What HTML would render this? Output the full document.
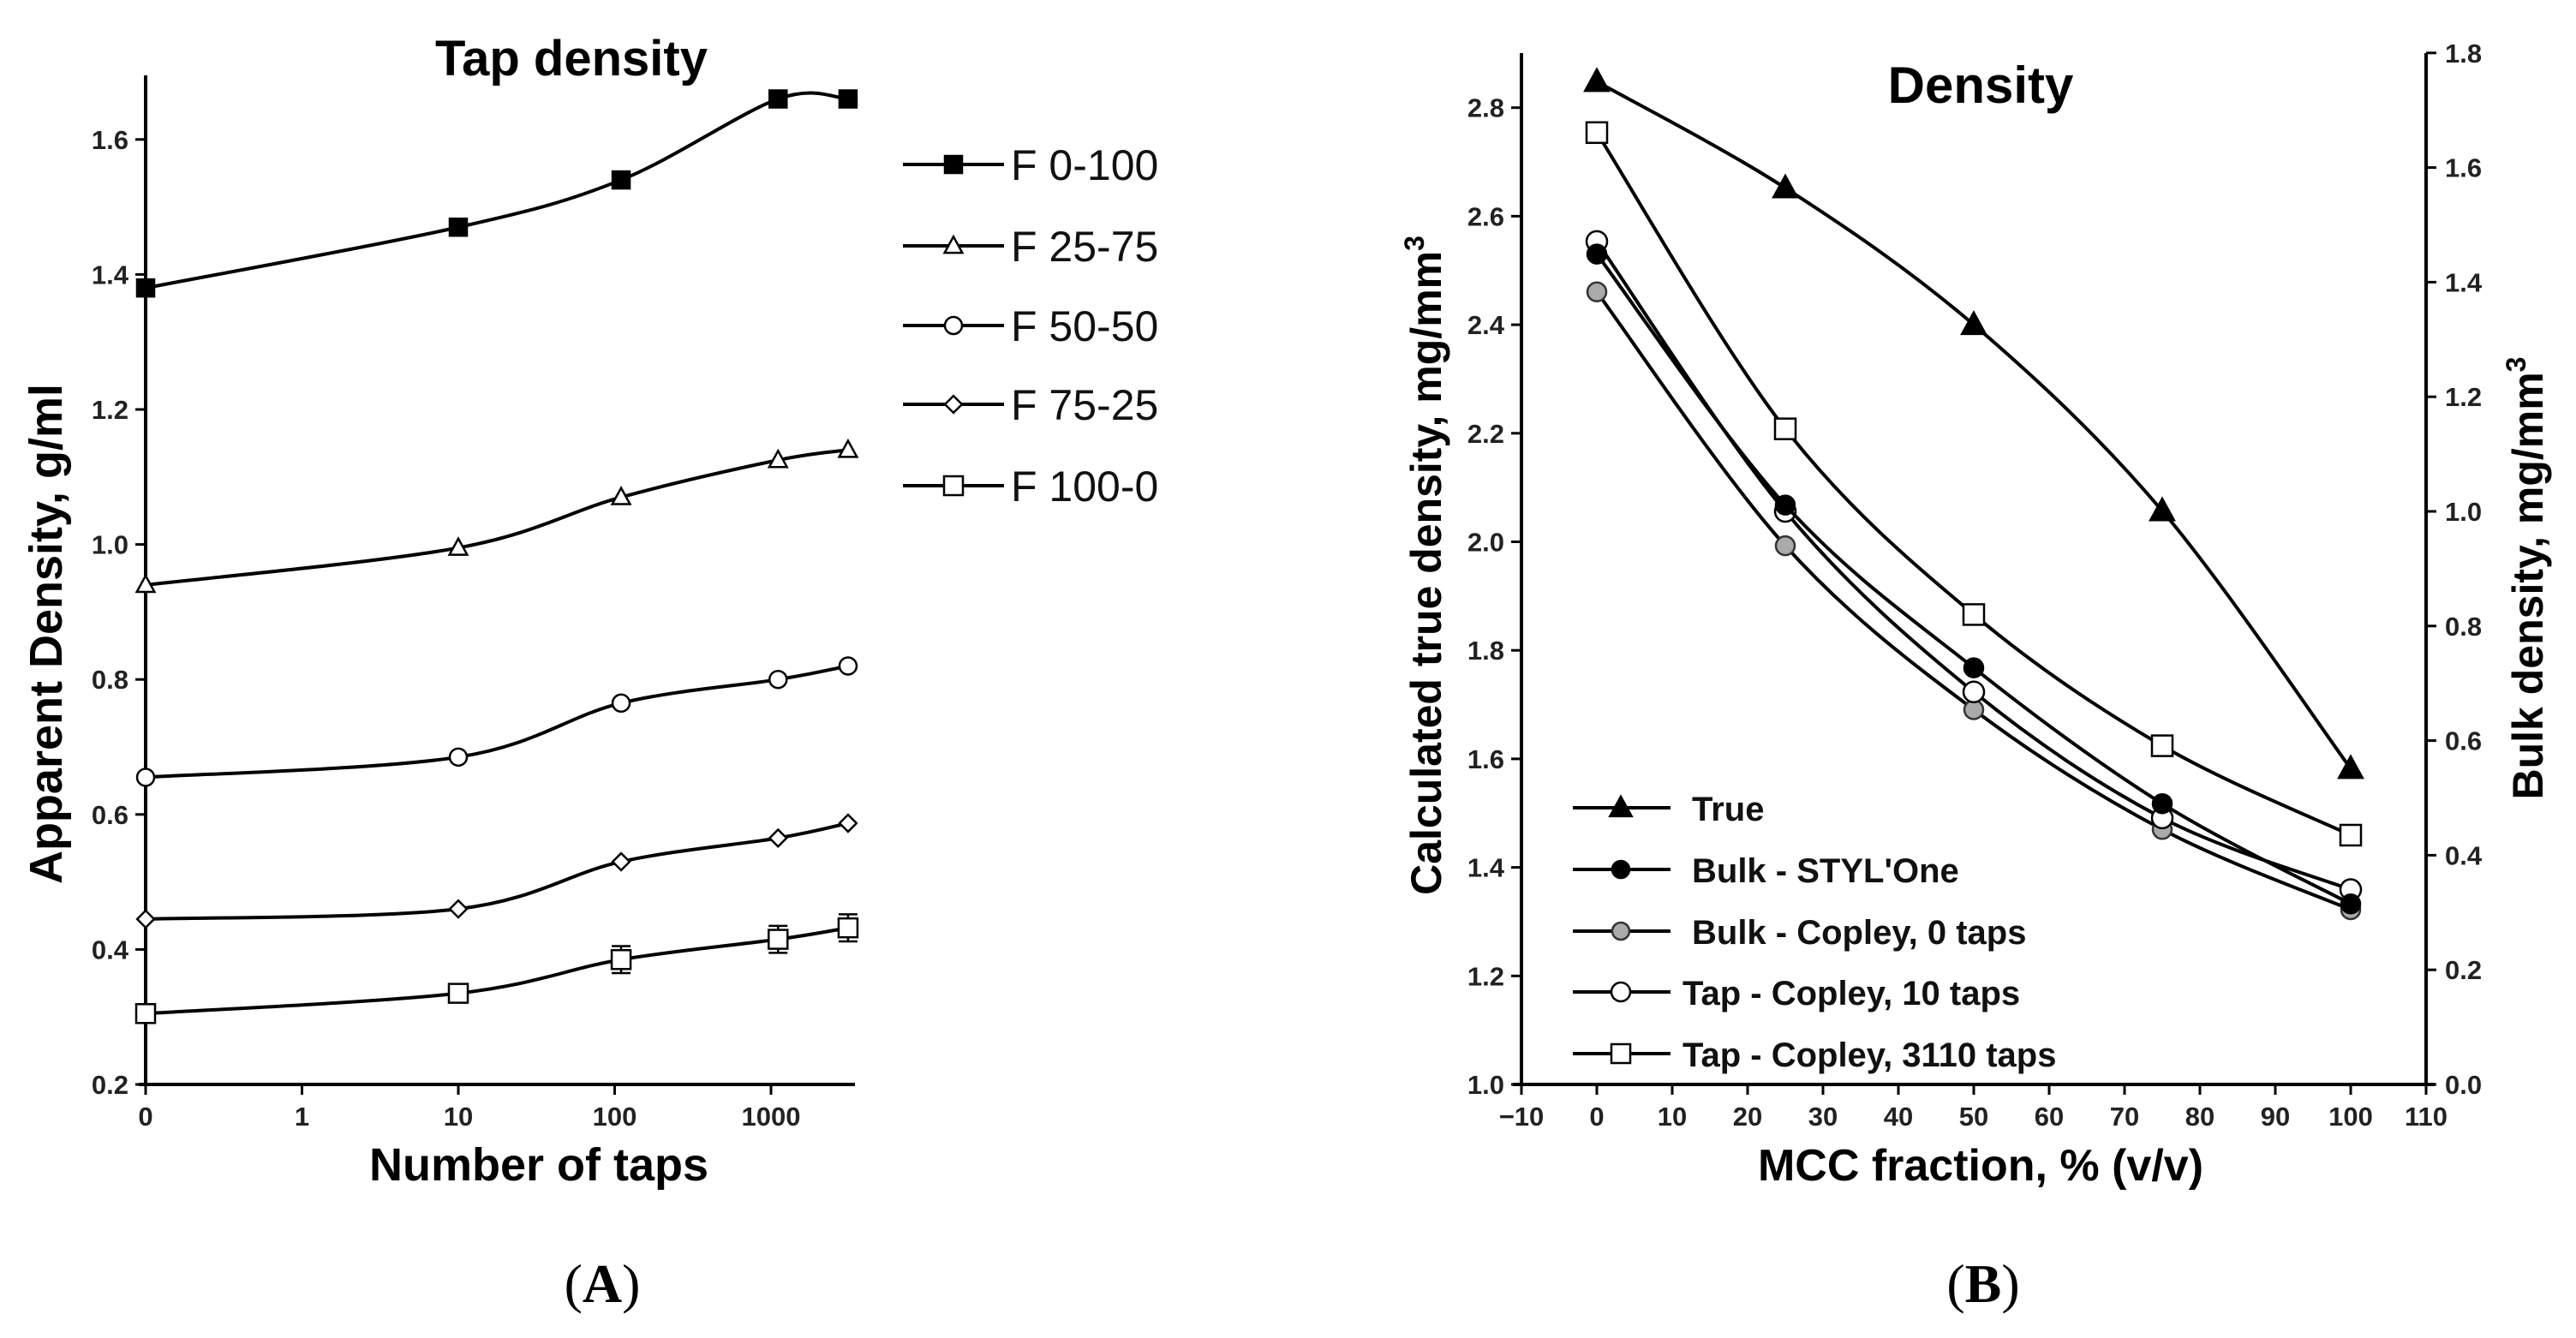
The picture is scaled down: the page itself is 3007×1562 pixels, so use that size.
<!DOCTYPE html>
<html><head><meta charset="utf-8">
<style>
html,body{margin:0;padding:0;background:#fff;}
svg{display:block;font-family:"Liberation Sans",Arial,sans-serif;}
</style></head>
<body>
<svg id="fig" width="3007" height="1562" viewBox="0 0 3007 1562" xmlns="http://www.w3.org/2000/svg">
<g id="A"></g>
<g id="B"></g>
</svg>
<script>
// ---- Chart A data ----
const tapsA = [0, 10, 110, 1110, 3110];
const tickLabelsAX = ["0","1","10","100","1000"];
const tickValsAY = [0.2,0.4,0.6,0.8,1.0,1.2,1.4,1.6];
const namesA = ["F 0-100","F 25-75","F 50-50","F 75-25","F 100-0"];
const f0_100 = [1.38, 1.47, 1.54, 1.66, 1.66];
const f25_75 = [0.94, 0.995, 1.07, 1.125, 1.14];
const f50_50 = [0.655, 0.685, 0.765, 0.80, 0.82];
const f75_25 = [0.445, 0.46, 0.53, 0.565, 0.587];
const f100_0 = [0.305, 0.335, 0.385, 0.415, 0.432];
const err100_0 = [0.005, 0.01, 0.02, 0.02, 0.02];
// ---- Chart B data ----
const mcc = [0, 25, 50, 75, 100];
const tickValsBX = [-10,0,10,20,30,40,50,60,70,80,90,100,110];
const tickValsBL = [1.0,1.2,1.4,1.6,1.8,2.0,2.2,2.4,2.6,2.8];
const tickValsBR = [0.0,0.2,0.4,0.6,0.8,1.0,1.2,1.4,1.6,1.8];
const namesB = ["True","Bulk - STYL'One","Bulk - Copley, 0 taps","Tap - Copley, 10 taps","Tap - Copley, 3110 taps"];
const trueDensity = [2.848, 2.652, 2.400, 2.057, 1.582];
const bulkStyl = [1.449, 1.011, 0.727, 0.490, 0.315];
const bulkCopley0 = [1.383, 0.940, 0.654, 0.445, 0.305];
const tapCopley10 = [1.471, 1.000, 0.685, 0.465, 0.340];
const tapCopley3110 = [1.661, 1.144, 0.820, 0.591, 0.435];

const NS = "http://www.w3.org/2000/svg";
function mk(parent, tag, attrs, text){
  const e = document.createElementNS(NS, tag);
  for (const k in attrs) e.setAttribute(k, attrs[k]);
  if (text !== undefined) e.textContent = text;
  parent.appendChild(e);
  return e;
}
function smoothPath(pts){
  let d = "M"+pts[0][0]+","+pts[0][1];
  for (let i=0;i<pts.length-1;i++){
    const p0=pts[Math.max(0,i-1)], p1=pts[i], p2=pts[i+1], p3=pts[Math.min(pts.length-1,i+2)];
    const t=6;
    const c1=[p1[0]+(p2[0]-p0[0])/t, p1[1]+(p2[1]-p0[1])/t];
    const c2=[p2[0]-(p3[0]-p1[0])/t, p2[1]-(p3[1]-p1[1])/t];
    d+=" C"+c1[0]+","+c1[1]+" "+c2[0]+","+c2[1]+" "+p2[0]+","+p2[1];
  }
  return d;
}
function marker(g, type, x, y, s){
  let e;
  if (type==="sqFill"||type==="sqOpen"){
    e = mk(g,"rect",{x:x-s,y:y-s,width:2*s,height:2*s,fill:type==="sqFill"?"#000":"#fff",stroke:"#000","stroke-width":2.5});
  } else if (type==="tri"||type==="triFill"){
    e = mk(g,"polygon",{points:`${x},${y-s*1.2} ${x-s*1.15},${y+s*0.9} ${x+s*1.15},${y+s*0.9}`,fill:type==="triFill"?"#000":"#fff",stroke:"#000","stroke-width":2.5});
  } else if (type==="circ"||type==="circFill"||type==="circGray"){
    e = mk(g,"circle",{cx:x,cy:y,r:s,fill:type==="circFill"?"#000":(type==="circGray"?"#aaa":"#fff"),stroke:type==="circGray"?"#333":"#000","stroke-width":2.5});
  } else if (type==="dia"){
    e = mk(g,"polygon",{points:`${x},${y-s*1.1} ${x+s*1.1},${y} ${x},${y+s*1.1} ${x-s*1.1},${y}`,fill:"#fff",stroke:"#000","stroke-width":2.5});
  }
  return e;
}

// ---------------- Chart A ----------------
(function(){
  const g = document.getElementById("A");
  const X0=170, dec=182.5, Yb=1266, Ypx=157.6;
  const xs = v => v===0 ? X0 : X0 + (Math.log10(v)+1)*dec;
  const ys = v => Yb - (v-0.2)/0.2*Ypx;
  const ax = mk(g,"g",{});
  
  
  mk(ax,"line",{x1:X0,y1:88,x2:X0,y2:Yb+2,stroke:"#000","stroke-width":4});
  mk(ax,"line",{x1:X0-8,y1:Yb,x2:998,y2:Yb,stroke:"#000","stroke-width":4});
  tickValsAY.forEach(v=>{
    const y=ys(v);
    mk(ax,"line",{x1:X0-12,y1:y,x2:X0,y2:y,stroke:"#000","stroke-width":3});
    const t=mk(ax,"text",{x:X0-20,y:y+11,"text-anchor":"end","font-size":31,"font-weight":"bold",fill:"#222"},v.toFixed(1));
    
    
  });
  tickLabelsAX.forEach((lab,i)=>{
    const x=X0+i*dec;
    mk(ax,"line",{x1:x,y1:Yb,x2:x,y2:Yb+12,stroke:"#000","stroke-width":3});
    const t=mk(ax,"text",{x:x,y:Yb+48,"text-anchor":"middle","font-size":31,"font-weight":"bold",fill:"#222"},lab);
    
    
  });
  const tt=mk(g,"text",{x:667,y:88,"text-anchor":"middle","font-size":58,"font-weight":"bold"},"Tap density");
  
  
  const yt=mk(g,"text",{x:0,y:0,transform:"translate(72,740) rotate(-90)","text-anchor":"middle","font-size":54,"font-weight":"bold"},"Apparent Density, g/ml");
  
  
  const xt=mk(g,"text",{x:629,y:1378,"text-anchor":"middle","font-size":54,"font-weight":"bold"},"Number of taps");
  
  
  const lab=mk(g,"text",{x:703,y:1520,"text-anchor":"middle","font-size":64,"font-family":"Liberation Serif, serif"});
  
  
  mk(lab,"tspan",{},"(");mk(lab,"tspan",{"font-weight":"bold"},"A");mk(lab,"tspan",{},")");

  const series=[f0_100,f25_75,f50_50,f75_25,f100_0];
  const mks=["sqFill","tri","circ","dia","sqOpen"];
  const sizes=[10,9,10,9,11];
  series.forEach((vals,si)=>{
    const sg=mk(g,"g",{});
    
    
    const pts=vals.map((v,i)=>[xs(tapsA[i]),ys(v)]);
    mk(sg,"path",{d:smoothPath(pts),fill:"none",stroke:"#000","stroke-width":4});
    if (si===4){
      vals.forEach((v,i)=>{
        const x=xs(tapsA[i]), e=err100_0[i];
        mk(sg,"line",{x1:x,y1:ys(v+e),x2:x,y2:ys(v-e),stroke:"#000","stroke-width":2.5});
        mk(sg,"line",{x1:x-11,y1:ys(v+e),x2:x+11,y2:ys(v+e),stroke:"#000","stroke-width":2.5});
        mk(sg,"line",{x1:x-11,y1:ys(v-e),x2:x+11,y2:ys(v-e),stroke:"#000","stroke-width":2.5});
      });
    }
    pts.forEach(p=>{
      const m=marker(sg,mks[si],p[0],p[1],sizes[si]);
      
      
    });
    const ly=[192,287,380,472,567][si];
    const lg=mk(g,"g",{});
    
    
    mk(lg,"line",{x1:1054,y1:ly,x2:1172,y2:ly,stroke:"#000","stroke-width":4});
    marker(lg,mks[si],1113,ly,sizes[si]);
    mk(lg,"text",{x:1180,y:ly+18,"font-size":50,fill:"#111"},namesA[si]);
  });
})();

// ---------------- Chart B ----------------
(function(){
  const g=document.getElementById("B");
  const XL=1776, XR=2832, Yb=1266;
  const xs=v=>XL+(v+10)/120*(XR-XL);
  const yl=v=>Yb-(v-1.0)/0.2*126.7;
  const yr=v=>Yb-v/0.2*133.8;
  const ax=mk(g,"g",{});
  
  
  mk(ax,"line",{x1:XL,y1:62,x2:XL,y2:Yb+2,stroke:"#000","stroke-width":4});
  mk(ax,"line",{x1:XR,y1:62,x2:XR,y2:Yb+2,stroke:"#000","stroke-width":4});
  mk(ax,"line",{x1:XL-10,y1:Yb,x2:XR+10,y2:Yb,stroke:"#000","stroke-width":4});
  tickValsBL.forEach(v=>{
    const y=yl(v);
    mk(ax,"line",{x1:XL-12,y1:y,x2:XL,y2:y,stroke:"#000","stroke-width":3});
    const t=mk(ax,"text",{x:XL-20,y:y+11,"text-anchor":"end","font-size":31,"font-weight":"bold",fill:"#222"},v.toFixed(1));
    
    
  });
  tickValsBR.forEach(v=>{
    const y=yr(v);
    mk(ax,"line",{x1:XR,y1:y,x2:XR+12,y2:y,stroke:"#000","stroke-width":3});
    const t=mk(ax,"text",{x:XR+22,y:y+11,"text-anchor":"start","font-size":31,"font-weight":"bold",fill:"#222"},v.toFixed(1));
    
    
  });
  tickValsBX.forEach(v=>{
    const x=xs(v);
    mk(ax,"line",{x1:x,y1:Yb,x2:x,y2:Yb+12,stroke:"#000","stroke-width":3});
    const t=mk(ax,"text",{x:x,y:Yb+48,"text-anchor":"middle","font-size":31,"font-weight":"bold",fill:"#222"},v<0?"\u2212"+(-v):String(v));
    
    
  });
  const tt=mk(g,"text",{x:2312,y:120,"text-anchor":"middle","font-size":60,"font-weight":"bold"},"Density");
  
  
  const yt=mk(g,"text",{x:0,y:0,transform:"translate(1682,660) rotate(-90)","text-anchor":"middle","font-size":50,"font-weight":"bold"});
  
  
  mk(yt,"tspan",{},"Calculated true density, mg/mm");
  mk(yt,"tspan",{"font-size":32,dy:-20},"3");
  const yt2=mk(g,"text",{x:0,y:0,transform:"translate(2968,675) rotate(-90)","text-anchor":"middle","font-size":50,"font-weight":"bold"});
  
  
  mk(yt2,"tspan",{},"Bulk density, mg/mm");
  mk(yt2,"tspan",{"font-size":32,dy:-20},"3");
  const xt=mk(g,"text",{x:2312,y:1378,"text-anchor":"middle","font-size":52,"font-weight":"bold"},"MCC fraction, % (v/v)");
  
  
  const lab=mk(g,"text",{x:2315,y:1520,"text-anchor":"middle","font-size":64,"font-family":"Liberation Serif, serif"});
  
  
  mk(lab,"tspan",{},"(");mk(lab,"tspan",{"font-weight":"bold"},"B");mk(lab,"tspan",{},")");

  const series=[[trueDensity,yl],[bulkStyl,yr],[bulkCopley0,yr],[tapCopley10,yr],[tapCopley3110,yr]];
  const mks=["triFill","circFill","circGray","circ","sqOpen"];
  const sizes=[12,11,11,12,12];
  const drawOrder=[2,3,1,4,0];
  drawOrder.forEach(si=>{
    const [vals,sc]=series[si];
    const sg=mk(g,"g",{});
    
    
    const pts=vals.map((v,i)=>[xs(mcc[i]),sc(v)]);
    mk(sg,"path",{d:smoothPath(pts),fill:"none",stroke:"#000","stroke-width":4});
    pts.forEach(p=>{
      const m=marker(sg,mks[si],p[0],p[1],sizes[si]);
      
      
    });
  });
  namesB.forEach((n,si)=>{
    const ly=[943,1015,1087,1158,1230][si];
    const lg=mk(g,"g",{});
    
    
    mk(lg,"line",{x1:1836,y1:ly,x2:1950,y2:ly,stroke:"#000","stroke-width":4});
    marker(lg,mks[si],1892,ly,sizes[si]-1);
    mk(lg,"text",{x:si>=3?1964:1975,y:ly+15,"font-size":40,"font-weight":"bold",fill:"#111"},n);
  });
})();
</script>
</body></html>
